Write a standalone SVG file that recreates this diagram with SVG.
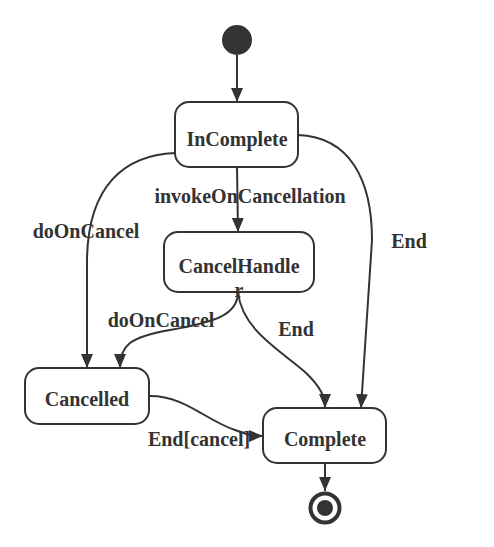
<svg xmlns="http://www.w3.org/2000/svg" width="494" height="547" viewBox="0 0 494 547">
<style>
.st{fill:#fff;stroke:#333;stroke-width:2}
.t{font-family:"Liberation Serif","Times New Roman",serif;font-weight:bold;font-size:20px;fill:#333;text-anchor:middle}
.c{fill:none;stroke:#333;stroke-width:2}
</style>
<defs>
<marker id="ah" markerUnits="userSpaceOnUse" markerWidth="14" markerHeight="12" refX="14" refY="6" orient="auto">
<path d="M0,0 L14,6 L0,12 z" fill="#333"/>
</marker>
</defs>
<rect width="494" height="547" fill="#fff"/>
<g id="connectors">
<path class="c" d="M237,55 L237,102" marker-end="url(#ah)"/>
<path class="c" d="M237,167 L238,232" marker-end="url(#ah)"/>
<path class="c" d="M175,153 C125,155 88,185 87,260 L87,368" marker-end="url(#ah)"/>
<path class="c" d="M298,135 C350,137 372,180 372,240 L361,408" marker-end="url(#ah)"/>
<path class="c" d="M238,292 C238,315 215,322 170,330 C130,337 120,345 120,368" marker-end="url(#ah)"/>
<path class="c" d="M238,292 C242,330 280,350 305,372 C322,388 325,398 325,408" marker-end="url(#ah)"/>
<path class="c" d="M150,396 C185,396 205,420 235,430 C245,434 255,436 263,436" marker-end="url(#ah)"/>
<path class="c" d="M325,463 L325,491" marker-end="url(#ah)"/>
<text class="t" x="250" y="203">invokeOnCancellation</text>
<text class="t" x="86" y="238">doOnCancel</text>
<text class="t" x="409" y="248">End</text>
<text class="t" x="161" y="327">doOnCancel</text>
<text class="t" x="296" y="336">End</text>
<text class="t" x="199" y="446">End[cancel]</text>
</g>
<g id="initial"><circle cx="237" cy="40" r="15" fill="#333"/></g>
<g id="InComplete"><rect class="st" x="175" y="102" width="123" height="65" rx="14"/><text class="t" x="237" y="146">InComplete</text></g>
<g id="CancelHandler"><rect class="st" x="164" y="232" width="150" height="60" rx="14"/><text class="t" x="239" y="273">CancelHandle</text><text class="t" x="239" y="297">r</text></g>
<g id="Cancelled"><rect class="st" x="25" y="368" width="124" height="56" rx="14"/><text class="t" x="87" y="406">Cancelled</text></g>
<g id="Complete"><rect class="st" x="263" y="408" width="123" height="55" rx="14"/><text class="t" x="325" y="446">Complete</text></g>
<g id="final"><circle cx="325" cy="508" r="14.5" fill="#fff" stroke="#333" stroke-width="4"/><circle cx="325" cy="508" r="8" fill="#333"/></g>
</svg>
